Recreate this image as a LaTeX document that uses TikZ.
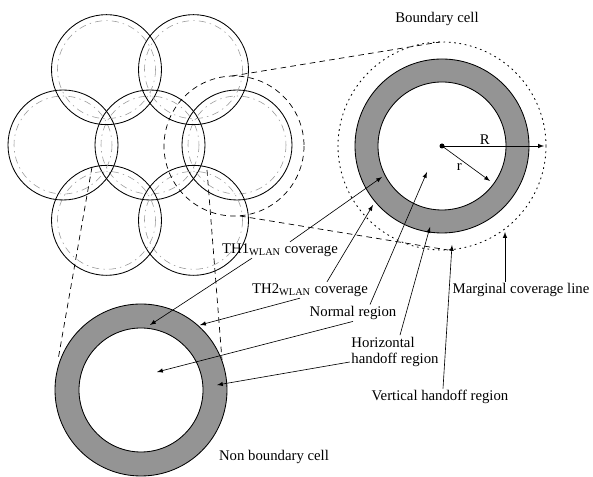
\documentclass[tikz,border=0pt]{standalone}
\usepackage{fontspec}
\setmainfont{Liberation Serif}
\usetikzlibrary{calc, positioning}

\tikzset{
    cellline/.style={draw, line width=0.6pt},
    cellinner/.style={draw=black!40, line width=0.4pt, dash pattern=on 5pt off 3pt on 1pt off 3pt},
    zoomline/.style={draw, line width=0.5pt, dash pattern=on 4pt off 3pt},
    marginline/.style={draw, line width=0.6pt, dash pattern=on 1.2pt off 2.6pt},
    ring/.style={draw, line width=0.6pt, fill=black!42, even odd rule},
    pointer/.style={->, >=latex, line width=0.45pt}
}

\begin{document}
\begin{tikzpicture}[x=0.025cm, y=-0.025cm, every node/.style={font=\fontsize{10.5}{12}\selectfont, inner sep=1pt}]
        \path[use as bounding box, fill=white] (0,0) rectangle (593,477);

        \begin{scope}
            \coordinate (C0) at (150,145);
            \foreach \a [count=\i] in {0, 60, ..., 300}{
                \coordinate (C\i) at ($(C0)+(\a:87)$);
            }
            \foreach \i in {0, ..., 6}{
                \draw[cellline] (C\i) circle[radius=55];
                \draw[cellinner] (C\i) circle[radius=49];
            }
        \end{scope}

        \coordinate (Z) at (234,146);
        \coordinate (B) at (442,146);
        \coordinate (N) at (141,390);

        \draw[zoomline] (Z) circle[radius=70];
        \draw[zoomline] (232,76) -- (440,42);
        \draw[zoomline] (240,216) -- (448,250);
        \draw[zoomline] (92,167) -- (58,360);
        \draw[zoomline] (207,170) -- (222,360);

        \draw[marginline] (B) circle[radius=104];
        \path[ring] (B) circle[radius=87] (B) circle[radius=64];
        \path[ring] (N) circle[radius=86] (N) circle[radius=62];

        \fill (B) circle[radius=2.5];
        \coordinate (Rend) at ($(B)+(102,0)$);
        \coordinate (rend) at (490,181);
        \draw[pointer] (B) -- (Rend) node[pos=0.42, above] {R};
        \draw[pointer] (B) -- (rend) node[pos=0.45, below left] {r};

        \node (bcell) at (437,19) {Boundary cell};
        \node (nbcell) at (274,457) {Non boundary cell};
        \node (th1) at (280,250) {TH1\textsubscript{WLAN} coverage};
        \node (th2) at (310,290) {TH2\textsubscript{WLAN} coverage};
        \node (normal) at (353,313) {Normal region};
        \node[align=left] (horiz) at (395,352) {Horizontal\\handoff region};
        \node (vert) at (440,397) {Vertical handoff region};
        \node (marg) at (521,290) {Marginal coverage line};

        \coordinate (b-th1) at (382,177);
        \coordinate (n-th1) at (150,325);
        \coordinate (b-th2) at (373,205);
        \coordinate (n-th2) at (200,325);
        \coordinate (b-norm) at (427,172);
        \coordinate (n-norm) at (157,372);
        \coordinate (b-hor) at (430,227);
        \coordinate (n-hor) at (217,385);
        \coordinate (b-vert) at (452,245);
        \coordinate (b-marg) at (505,232);

        \draw[pointer] ($(th1.north)+(10,0)$) -- (b-th1);
        \draw[pointer] ($(th1.south)+(-28,0)$) -- (n-th1);
        \draw[pointer] ($(th2.north)+(17,0)$) -- (b-th2);
        \draw[pointer] ($(th2.south)+(-10,0)$) -- (n-th2);
        \draw[pointer] ($(normal.north)+(17,0)$) -- (b-norm);
        \draw[pointer] (normal.south) -- (n-norm);
        \draw[pointer] ($(horiz.north)+(5,0)$) -- (b-hor);
        \draw[pointer] ($(horiz.west)+(0,10)$) -- (n-hor);
        \draw[pointer] ($(vert.north)+(3,0)$) -- (b-vert);
        \draw[pointer] ($(marg.north)+(-16,0)$) -- (b-marg);
    \end{tikzpicture}
\end{document}
